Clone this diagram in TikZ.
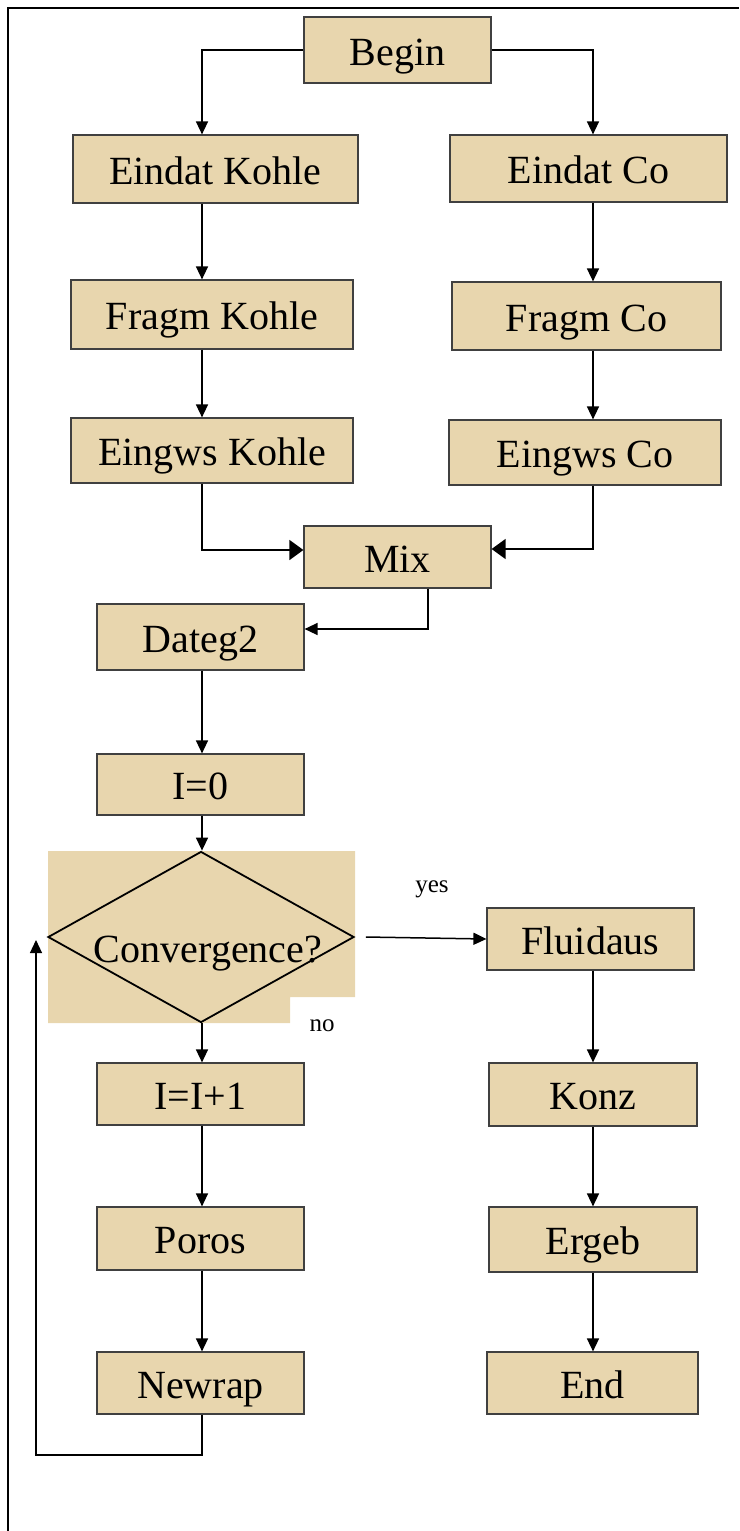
\documentclass[tikz,border=0pt]{standalone}
\usepackage{fontspec}
\setmainfont{Liberation Serif}
\usetikzlibrary{arrows.meta,shapes.geometric}
\definecolor{papier}{RGB}{232,214,174}
\tikzset{
  kasten/.style={draw=black!75, line width=1.2pt, fill=papier, inner sep=0pt,
    text height=30pt, text depth=0pt, font=\fontsize{40}{48}\selectfont},
  pfeil/.style={line width=1.5pt, -{Triangle[length=13pt,width=12pt]}},
  pfeilgross/.style={pfeil, -{Triangle[length=14pt,width=20pt]}},
  marke/.style={font=\fontsize{25}{30}\selectfont}
}

\begin{document}
\begin{tikzpicture}[x=1pt, y=-1pt]
  \useasboundingbox (0,0) rectangle (739,1531);
  % Rahmen
  \draw[line width=2pt] (8,1531) -- (8,8) -- (739,8);
  % Hintergrund der Raute
  \fill[papier] (48,851) -- (355,851) -- (355,997) -- (290,997) -- (290,1023) -- (48,1023) -- cycle;
  % Kaesten
  \node[kasten, minimum width=187, minimum height=66] (begin) at (397.5,50) {Begin};
  \node[kasten, minimum width=285, minimum height=68] (eindatK) at (215.5,169) {Eindat Kohle};
  \node[kasten, minimum width=277, minimum height=67] (eindatC) at (588.5,168.5) {Eindat Co};
  \node[kasten, minimum width=282, minimum height=69] (fragmK) at (212,314.5) {Fragm Kohle};
  \node[kasten, minimum width=269, minimum height=68] (fragmC) at (586.5,316) {Fragm Co};
  \node[kasten, minimum width=282, minimum height=65] (eingwsK) at (212,450.5) {Eingws Kohle};
  \node[kasten, minimum width=272, minimum height=65] (eingwsC) at (585,452.5) {Eingws Co};
  \node[kasten, minimum width=187, minimum height=62] (mix) at (397.5,557) {Mix};
  \node[kasten, minimum width=207, minimum height=66] (dateg) at (200.5,637) {Dateg2};
  \node[kasten, minimum width=207, minimum height=61] (izero) at (200.5,784.5) {I=0};
  \node[draw, line width=1.8pt, diamond, aspect=1.79, inner sep=0pt,
    minimum width=306, minimum height=171, font=\fontsize{40}{48}\selectfont]
    (conv) at (201,937) {\hspace*{14pt}\raisebox{-25pt}[0pt][0pt]{Convergence?}};
  \node[kasten, minimum width=207, minimum height=62] (fluidaus) at (590.5,939) {Fluidaus};
  \node[kasten, minimum width=207, minimum height=62] (iplus) at (200.5,1094) {I=I+1};
  \node[kasten, minimum width=208, minimum height=63] (konz) at (593,1094.5) {Konz};
  \node[kasten, minimum width=207, minimum height=63] (poros) at (200.5,1238.5) {Poros};
  \node[kasten, minimum width=208, minimum height=65] (ergeb) at (593,1239.5) {Ergeb};
  \node[kasten, minimum width=207, minimum height=62] (newrap) at (200.5,1383) {Newrap};
  \node[kasten, minimum width=211, minimum height=62] (ende) at (592.5,1383) {End};
  % Beschriftung
  \node[marke] (ja) at (432,889) {yes};
  \node[marke] (nein) at (322,1026) {no};
  % Spalten
  \coordinate (lx) at (202,0);
  \coordinate (rx) at (593,0);
  % Pfeile
  \draw[pfeil] (begin.west) -| (eindatK.north -| lx);
  \draw[pfeil] (begin.east) -| (eindatC.north -| rx);
  \foreach \a/\b/\s in {eindatK/fragmK/lx, fragmK/eingwsK/lx, dateg/izero/lx,
      izero/conv/lx, conv/iplus/lx, iplus/poros/lx, poros/newrap/lx,
      eindatC/fragmC/rx, fragmC/eingwsC/rx, fluidaus/konz/rx, konz/ergeb/rx, ergeb/ende/rx}
    \draw[pfeil] (\a.south -| \s) -- (\b.north -| \s);
  \draw[pfeilgross] (eingwsK.south -| lx) |- ([yshift=7pt]mix.west);
  \draw[pfeilgross] (eingwsC.south -| rx) |- ([yshift=8pt]mix.east);
  \draw[pfeil] ([xshift=30.5pt]mix.south) |- ([yshift=8pt]dateg.east);
  \draw[pfeil] ([xshift=11pt]conv.east) -- (fluidaus.west);
  % Ruecksprung
  \coordinate (unten) at (36,1455);
  \coordinate (rueck) at (36,940);
  \draw[pfeil, line width=1.2pt] (newrap.south -| lx) |- (unten) -- (rueck);
\end{tikzpicture}
\end{document}
